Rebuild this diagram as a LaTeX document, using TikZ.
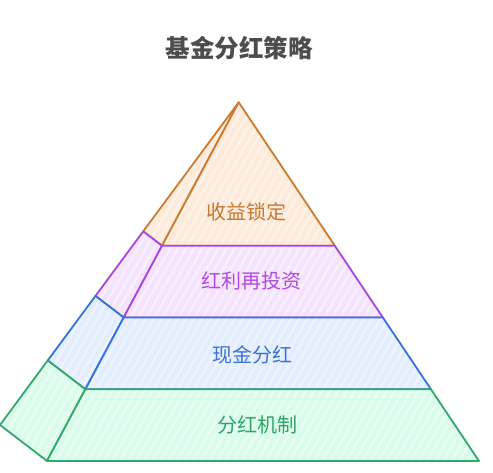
\documentclass[tikz,border=0pt]{standalone}
\usepackage{fontspec}
\newfontfamily\cjk{Noto Sans CJK SC}
\usetikzlibrary{calc,patterns.meta}
\tikzset{>=latex}
\definecolor{lockline}{HTML}{CD7A2C}
\definecolor{lockfill}{HTML}{FDEADA}
\definecolor{lockstripe}{HTML}{FEF2E7}
\definecolor{locktext}{HTML}{C8782E}
\definecolor{reinvline}{HTML}{A844E0}
\definecolor{reinvfill}{HTML}{F4E3FD}
\definecolor{reinvstripe}{HTML}{F9EEFE}
\definecolor{reinvtext}{HTML}{B04AE0}
\definecolor{cashline}{HTML}{3373DE}
\definecolor{cashfill}{HTML}{E3EDFE}
\definecolor{cashstripe}{HTML}{EEF4FF}
\definecolor{cashtext}{HTML}{3A72D8}
\definecolor{mechline}{HTML}{2EAA6B}
\definecolor{mechfill}{HTML}{D9FBE9}
\definecolor{mechstripe}{HTML}{E8FDF2}
\definecolor{mechtext}{HTML}{2EA468}
\definecolor{titletext}{HTML}{4D4D4D}
\tikzset{
  layer/.style={
    preaction={fill=#1fill},
    pattern={Lines[angle=60,distance=7pt,line width=2.5pt]},
    pattern color=#1stripe,
    draw=#1line, line width=1.8pt, line join=round
  },
  lbl/.style={text=#1text, font=\cjk\fontsize{20}{20}\selectfont, inner sep=0pt},
  title/.style={text=titletext, font=\cjk\bfseries\fontsize{24.5}{24.5}\selectfont, inner sep=0pt}
}

\begin{document}
\begin{tikzpicture}[x=1pt,y=-1pt]
    \useasboundingbox (0,0) rectangle (493,473);
    \node[title] (title) at (239,48) {基金分红策略};
    % corners of the pyramid
    \coordinate (apex) at (238.7,102.3);
    \coordinate (fl4) at (47,461);
    \coordinate (fr4) at (479,461);
    \coordinate (bl4) at (0,425);
    \foreach \k/\t in {1/0.4,2/0.6,3/0.8} {
      \coordinate (fl\k) at ($(apex)!\t!(fl4)$);
      \coordinate (fr\k) at ($(apex)!\t!(fr4)$);
      \coordinate (bl\k) at ($(apex)!\t!(bl4)$);
    }
    % top layer
    \draw[layer=lock] (apex) -- (bl1) -- (fl1) -- cycle;
    \draw[layer=lock] (apex) -- (fl1) -- (fr1) -- cycle;
    % lower layers
    \foreach \k/\j/\c in {2/1/reinv,3/2/cash,4/3/mech} {
      \draw[layer=\c] (bl\j) -- (fl\j) -- (fl\k) -- (bl\k) -- cycle;
      \draw[layer=\c] (fl\j) -- (fr\j) -- (fr\k) -- (fl\k) -- cycle;
    }
    \node[lbl=lock] (lock) at (246,211.5) {收益锁定};
    \node[lbl=reinv] (reinv) at (251.3,281) {红利再投资};
    \node[lbl=cash] (cash) at (252,355) {现金分红};
    \node[lbl=mech] (mech) at (257,425) {分红机制};
\end{tikzpicture}
\end{document}
